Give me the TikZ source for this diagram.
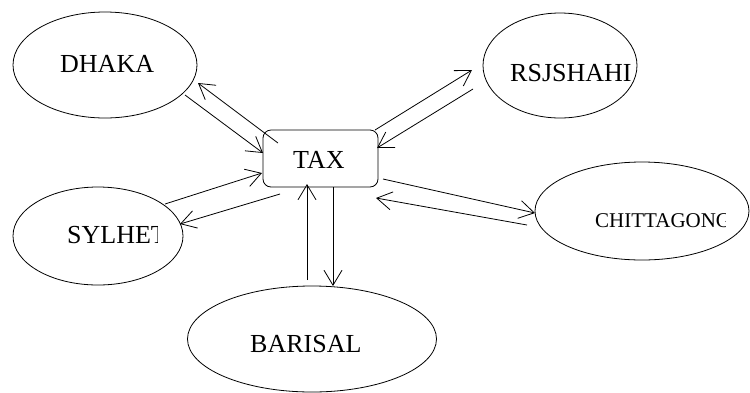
\documentclass[tikz,border=0pt]{standalone}
\usepackage{fontspec}
\setmainfont{Liberation Serif}
\usetikzlibrary{shapes.geometric,arrows.meta}
\begin{document}
\begin{tikzpicture}[x=1pt,y=-1pt,
  city/.style={draw,ellipse,line width=0.8pt,inner sep=0pt},
  hub/.style={draw,rectangle,rounded corners=8pt,line width=0.8pt,inner sep=0pt,
              minimum width=115pt,minimum height=57pt},
  lbl/.style={anchor=base west,inner sep=0pt,font=\fontsize{26}{28}\selectfont},
  flow/.style={line width=0.8pt,-{Straight Barb[length=15pt,width=18pt,line width=0.8pt]}}]
\useasboundingbox (0,0) rectangle (750,392);

% districts and the central office
\node[city,minimum width=184pt,minimum height=106pt] (dhaka)   at (105,65)  {};
\node[city,minimum width=154pt,minimum height=105pt] (rajshahi) at (560,65.5) {};
\node[city,minimum width=170pt,minimum height=98pt]  (sylhet)  at (98,236)  {};
\node[city,minimum width=214pt,minimum height=98pt]  (ctg)     at (642,211) {};
\node[city,minimum width=249pt,minimum height=106pt] (barisal) at (312,339) {};
\node[hub] (tax) at (320.5,158.5) {};

% labels
\node[lbl] (dhakaT) at (60,72) {DHAKA};
\node[lbl] (rajT)   at (510,81) {RSJSHAHI};
\node[lbl] (taxT)   at (293,168) {TAX};
\node[lbl] (barT)   at (250,352) {BARISAL};
\begin{scope}
  \clip (60,200) rectangle (157,270);
  \node[lbl] (sylT) at (67,243) {SYLHET};
\end{scope}
\begin{scope}
  \clip (590,190) rectangle (725,240);
  \node[lbl,font=\fontsize{21}{23}\selectfont] (ctgT) at (595,227) {CHITTAGONG};
\end{scope}

% arrow end points
\coordinate (dA) at (185,95);   \coordinate (tA) at (263,153);
\coordinate (tB) at (278,143);  \coordinate (dB) at (198,83);
\coordinate (sA) at (165,204);  \coordinate (tC) at (262,173);
\coordinate (tD) at (280,194);  \coordinate (sB) at (180,224);
\coordinate (tE) at (375,130);  \coordinate (rA) at (472,70);
\coordinate (rB) at (473,89);   \coordinate (tF) at (377,148);
\coordinate (tG) at (383,179);  \coordinate (cA) at (535,213);
\coordinate (cB) at (527,225);  \coordinate (tH) at (376,198);
\coordinate (bA) at (307,280);  \coordinate (tI) at (307,184);
\coordinate (tJ) at (333,187);  \coordinate (bB) at (333,286);

% flows to and from the office
\draw[flow] (dA) -- (tA);
\draw[flow] (tB) -- (dB);
\draw[flow] (sA) -- (tC);
\draw[flow] (tD) -- (sB);
\draw[flow] (tE) -- (rA);
\draw[flow] (rB) -- (tF);
\draw[flow] (tG) -- (cA);
\draw[flow] (cB) -- (tH);
\draw[flow] (bA) -- (tI);
\draw[flow] (tJ) -- (bB);
\end{tikzpicture}
\end{document}
